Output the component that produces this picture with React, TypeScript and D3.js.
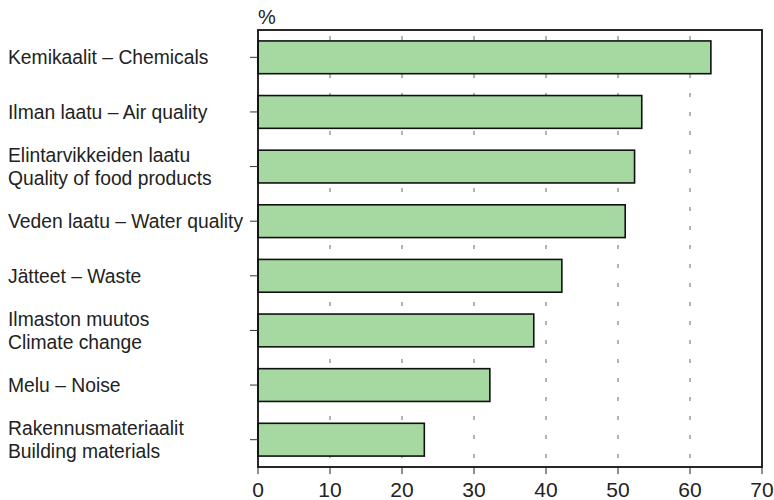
import React from "react";
import { scaleBand, scaleLinear } from "d3";

const categories = [
  ["Kemikaalit – Chemicals"],
  ["Ilman laatu – Air quality"],
  ["Elintarvikkeiden laatu", "Quality of food products"],
  ["Veden laatu – Water quality"],
  ["Jätteet – Waste"],
  ["Ilmaston muutos", "Climate change"],
  ["Melu – Noise"],
  ["Rakennusmateriaalit", "Building materials"],
];
const values = [62.9, 53.3, 52.3, 51.0, 42.2, 38.3, 32.2, 23.1];
const xTicks = [0, 10, 20, 30, 40, 50, 60, 70];
const unitLabel = "%";

const W = 774;
const H = 500;
const left = 258;
const right = 762;
const top = 30;
const bottom = 467;
const font = "'Liberation Sans', Arial, Helvetica, sans-serif";

export default function App() {
  const keys = categories.map((c) => c.join(" "));
  const x = scaleLinear().domain([0, 70]).range([left, right]);
  const y = scaleBand().domain(keys).range([top, bottom]).paddingInner(0.4).paddingOuter(0.2);

  return (
    <div style={{ position: "absolute", left: 0, top: 0 }}>
      <svg width={W} height={H} style={{ display: "block", background: "#fff" }}>
        {/* dashed grid, drawn behind the bars */}
        {xTicks.slice(1, -1).map((t) => (
          <line key={t} x1={x(t)} x2={x(t)} y1={top + 6} y2={bottom - 4}
            stroke="#666" strokeWidth={1} strokeDasharray="4,15" />
        ))}
        {values.map((v, i) => (
          <rect key={i} x={x(0)} y={y(keys[i])} width={x(v) - x(0)} height={y.bandwidth()}
            fill="#a6d8a1" stroke="#111" strokeWidth={1.6} />
        ))}
        <rect x={left} y={top} width={right - left} height={bottom - top}
          fill="none" stroke="#111" strokeWidth={1.8} />
        {keys.map((k, i) => {
          const cy = y(k)! + y.bandwidth() / 2;
          const lines = categories[i];
          return (
            <g key={k}>
              <line x1={left - 8} x2={left} y1={cy} y2={cy} stroke="#333" strokeWidth={1} />
              {lines.map((l, j) => (
                <text key={j} x={8} y={cy + 7 + (j - (lines.length - 1) / 2) * 22.5}
                  fontFamily={font} fontSize={19.3} fill="#222">{l}</text>
              ))}
            </g>
          );
        })}
        {xTicks.map((t) => (
          <g key={t}>
            <line x1={x(t)} x2={x(t)} y1={bottom} y2={bottom + 7} stroke="#222" strokeWidth={1} />
            <text x={x(t)} y={497} textAnchor="middle" fontFamily={font} fontSize={21} fill="#222">{t}</text>
          </g>
        ))}
        <text x={left} y={24} fontFamily={font} fontSize={20} fill="#222">{unitLabel}</text>
      </svg>
    </div>
  );
}
